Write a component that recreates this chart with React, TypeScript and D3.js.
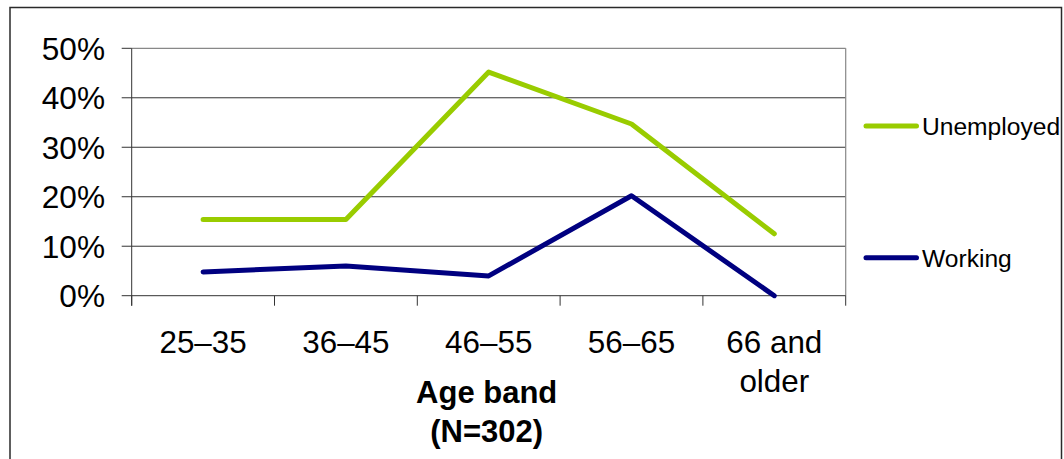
import React from "react";
import * as d3 from "d3";

// Age bands on the x axis
const ageBands = ["25–35", "36–45", "46–55", "56–65", "66 and older"];
const ageBandLines = [["25–35"], ["36–45"], ["46–55"], ["56–65"], ["66 and", "older"]];

// Share of respondents in each age band (percent)
const unemployed = [15.4, 15.4, 45.2, 34.7, 12.5];
const working = [4.8, 6.0, 4.0, 20.2, 0];

const yTicks = [0, 10, 20, 30, 40, 50];

const seriesNames = ["Unemployed", "Working"];
const seriesColors = ["#99cc00", "#000080"];

const WIDTH = 1064;
const HEIGHT = 459;
const FONT = "'Liberation Sans', Arial, Helvetica, sans-serif";

export default function App() {
  const plot = { left: 131.7, right: 845.7, top: 48.3, bottom: 295.7 };

  const x = d3.scaleBand<string>().domain(ageBands).range([plot.left, plot.right]).padding(0);
  const y = d3.scaleLinear().domain([0, 50]).range([plot.bottom, plot.top]);

  const cx = (c: string) => (x(c) as number) + x.bandwidth() / 2;

  const line = d3
    .line<number>()
    .x((_, i) => cx(ageBands[i]))
    .y((v) => y(v));

  const series = [unemployed, working];
  const legendY = [126, 257.7];

  return (
    <div style={{ position: "fixed", left: 0, top: 0 }}>
      <svg width={WIDTH} height={HEIGHT} style={{ display: "block", background: "#fff" }}>
        {/* chart frame */}
        <rect x={10} y={7.5} width={1051.5} height={470} fill="#fff" stroke="#2a2a2a" strokeWidth={1.5} />

        {/* horizontal gridlines */}
        {yTicks.slice(1, -1).map((t) => (
          <line key={t} x1={plot.left} x2={plot.right} y1={y(t)} y2={y(t)} stroke="#333" strokeWidth={1} />
        ))}
        {/* plot area top and right edges */}
        <line x1={plot.left} x2={plot.right} y1={y(50)} y2={y(50)} stroke="#888" strokeWidth={1.2} />
        <line x1={plot.right} x2={plot.right} y1={plot.top} y2={plot.bottom} stroke="#888" strokeWidth={1.2} />

        {/* y axis */}
        <line x1={plot.left} x2={plot.left} y1={plot.top} y2={plot.bottom + 10} stroke="#333" strokeWidth={1} />
        {yTicks.map((t) => (
          <g key={t}>
            <line x1={plot.left - 10} x2={plot.left} y1={y(t)} y2={y(t)} stroke="#333" strokeWidth={1} />
            <text
              x={105}
              y={y(t)}
              dy="0.36em"
              textAnchor="end"
              fontFamily={FONT}
              fontSize={31.6}
              fill="#000"
            >
              {`${t}%`}
            </text>
          </g>
        ))}

        {/* x axis */}
        <line x1={plot.left} x2={plot.right} y1={plot.bottom} y2={plot.bottom} stroke="#333" strokeWidth={1} />
        {[...ageBands.map((c) => x(c) as number), plot.right].map((px, i) => (
          <line key={i} x1={px} x2={px} y1={plot.bottom} y2={plot.bottom + 10} stroke="#333" strokeWidth={1} />
        ))}
        {ageBands.map((c, i) => (
          <text key={c} textAnchor="middle" fontFamily={FONT} fontSize={31.4} fill="#000">
            {ageBandLines[i].map((ln, j) => (
              <tspan key={j} x={cx(c)} y={353.3 + j * 38.4}>
                {ln}
              </tspan>
            ))}
          </text>
        ))}

        {/* axis title */}
        <text textAnchor="middle" fontFamily={FONT} fontSize={31} fontWeight="bold" fill="#000">
          <tspan x={(plot.left + plot.right) / 2 - 2} y={403.3}>
            Age band
          </tspan>
          <tspan x={(plot.left + plot.right) / 2 - 2} y={441.7}>
            (N=302)
          </tspan>
        </text>

        {/* series lines */}
        {series.map((vals, i) => (
          <path
            key={seriesNames[i]}
            d={line(vals) as string}
            fill="none"
            stroke={seriesColors[i]}
            strokeWidth={5}
            strokeLinejoin="round"
            strokeLinecap="round"
          />
        ))}

        {/* legend */}
        {seriesNames.map((name, i) => (
          <g key={name}>
            <line
              x1={866}
              x2={916.5}
              y1={legendY[i]}
              y2={legendY[i]}
              stroke={seriesColors[i]}
              strokeWidth={5}
              strokeLinecap="round"
            />
            <text x={922} y={legendY[i]} dy="0.36em" fontFamily={FONT} fontSize={24.6} fill="#000">
              {name}
            </text>
          </g>
        ))}
      </svg>
    </div>
  );
}
